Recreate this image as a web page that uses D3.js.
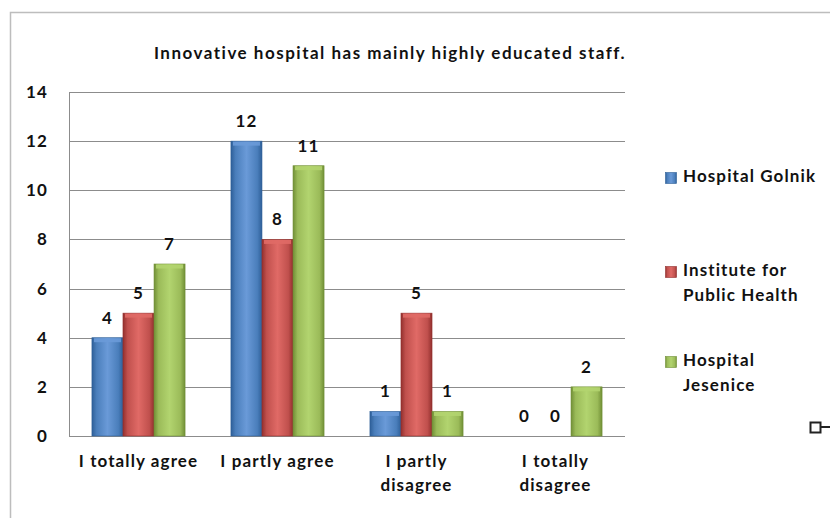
<!DOCTYPE html>
<html>
<head>
<meta charset="utf-8">
<script src="https://cdn.jsdelivr.net/npm/d3@7"></script>
<style>
  body { margin: 0; background: white; }
  text { font-family: Lato, "Open Sans", sans-serif; fill: #111; }
</style>
</head>
<body>
<div id="chart"></div>
<script>
const categories = [["I totally agree"], ["I partly agree"], ["I partly", "disagree"], ["I totally", "disagree"]]
const seriesNames = [["Hospital Golnik"], ["Institute for", "Public Health"], ["Hospital", "Jesenice"]]
const golnik = [4, 12, 1, 0]
const institute = [5, 8, 5, 0]
const jesenice = [7, 11, 1, 2]
const yTicks = [0, 2, 4, 6, 8, 10, 12, 14]
const colors = [["#6a9ad8", "#4a7ebb", "#2e5f98"], ["#e06a66", "#c0504d", "#93302e"], ["#b2d46f", "#9bbb59", "#718f36"]]

const W = 830, H = 518
const svg = d3.select("#chart").append("svg")
    .attr("width", W)
    .attr("height", H)

// outer chart frame
svg.append("rect")
    .attr("x", 10.5).attr("y", 12.5)
    .attr("width", 840).attr("height", 520)
    .attr("fill", "none").attr("stroke", "#bdbdbd").attr("stroke-width", 1.5)

const plotL = 69, plotR = 625, plotT = 92, plotB = 436
const fs = 17, ls = 1.1

const x = d3.scaleBand().domain(d3.range(categories.length)).range([plotL, plotR]).paddingInner(0.33).paddingOuter(0.165)
const x1 = d3.scaleBand().domain([0, 1, 2]).range([0, x.bandwidth()])
const y = d3.scaleLinear().domain([0, 14]).range([plotB, plotT])

// gradients
const defs = svg.append("defs")
colors.forEach((c, i) => {
    const g = defs.append("linearGradient").attr("id", "grad" + i)
        .attr("x1", 0).attr("x2", 1).attr("y1", 0).attr("y2", 0)
    g.append("stop").attr("offset", "0%").attr("stop-color", c[2])
    g.append("stop").attr("offset", "15%").attr("stop-color", c[1])
    g.append("stop").attr("offset", "50%").attr("stop-color", c[0])
    g.append("stop").attr("offset", "85%").attr("stop-color", c[1])
    g.append("stop").attr("offset", "100%").attr("stop-color", c[2])
})

// gridlines
svg.append("g").selectAll("line")
    .data(yTicks)
    .join("line")
    .attr("x1", plotL).attr("x2", plotR)
    .attr("y1", d => Math.round(y(d)) + 0.5).attr("y2", d => Math.round(y(d)) + 0.5)
    .attr("stroke", "#8c8c8c").attr("stroke-width", 1)

svg.append("line")
    .attr("x1", plotL + 0.5).attr("x2", plotL + 0.5)
    .attr("y1", plotT).attr("y2", plotB)
    .attr("stroke", "#8c8c8c")

// y tick labels
svg.append("g").selectAll("text")
    .data(yTicks)
    .join("text")
    .attr("x", 48).attr("y", d => y(d) + 6)
    .attr("text-anchor", "end")
    .attr("font-size", fs)
    .attr("font-weight", "bold")
    .attr("letter-spacing", ls)
    .text(d => d)

const series = [golnik, institute, jesenice]
series.forEach((vals, s) => {
    const g = svg.append("g")
    g.selectAll("rect")
        .data(vals)
        .join("rect")
        .attr("x", (d, i) => x(i) + x1(s))
        .attr("y", d => y(d))
        .attr("width", x1.bandwidth())
        .attr("height", d => y(0) - y(d))
        .attr("fill", "url(#grad" + s + ")")
        .attr("stroke", colors[s][2]).attr("stroke-width", 0.6)
    // bevel on top
    g.selectAll(".bev")
        .data(vals.map((v, i) => [v, i]).filter(d => d[0] > 0))
        .join("rect")
        .attr("class", "bev")
        .attr("x", d => x(d[1]) + x1(s) + 2)
        .attr("y", d => y(d[0]) + 0.5)
        .attr("width", x1.bandwidth() - 4)
        .attr("height", 4)
        .attr("fill", colors[s][0]).attr("opacity", 0.9)
    g.selectAll(".val")
        .data(vals)
        .join("text")
        .attr("class", "val")
        .attr("x", (d, i) => x(i) + x1(s) + x1.bandwidth() / 2)
        .attr("y", d => y(d) - 14)
        .attr("text-anchor", "middle")
        .attr("font-size", fs)
        .attr("font-weight", "bold")
        .attr("letter-spacing", ls)
        .text(d => d)
})

// category labels
categories.forEach((lines, i) => {
    const cx = x(i) + x.bandwidth() / 2
    const t = svg.append("text")
        .attr("y", 467)
        .attr("text-anchor", "middle")
        .attr("font-size", fs)
        .attr("font-weight", "bold")
        .attr("letter-spacing", ls)
    lines.forEach((l, k) => t.append("tspan").attr("x", cx).attr("dy", k ? 24 : 0).text(l))
})

// title
svg.append("text")
    .attr("x", 390).attr("y", 59)
    .attr("text-anchor", "middle")
    .attr("font-size", fs)
    .attr("font-weight", "bold")
    .attr("letter-spacing", 1.5)
    .text("Innovative hospital has mainly highly educated staff.")

// legend
const legY = [182, 276, 366]
seriesNames.forEach((lines, s) => {
    svg.append("rect")
        .attr("x", 665.5).attr("y", legY[s] - 9.5)
        .attr("width", 11).attr("height", 11)
        .attr("fill", "url(#grad" + s + ")")
        .attr("stroke", colors[s][2]).attr("stroke-width", 0.6)
    const t = svg.append("text")
        .attr("y", legY[s])
        .attr("font-size", fs)
        .attr("font-weight", "bold")
        .attr("letter-spacing", ls)
    lines.forEach((l, k) => t.append("tspan").attr("x", 683).attr("dy", k ? 25 : 0).text(l))
})

// resize handle
svg.append("rect")
    .attr("x", 810.5).attr("y", 422.5)
    .attr("width", 10).attr("height", 10)
    .attr("fill", "white").attr("stroke", "#222").attr("stroke-width", 2)
svg.append("line")
    .attr("x1", 821).attr("x2", 830).attr("y1", 427).attr("y2", 427)
    .attr("stroke", "#222").attr("stroke-width", 2)
</script>
</body>
</html>
